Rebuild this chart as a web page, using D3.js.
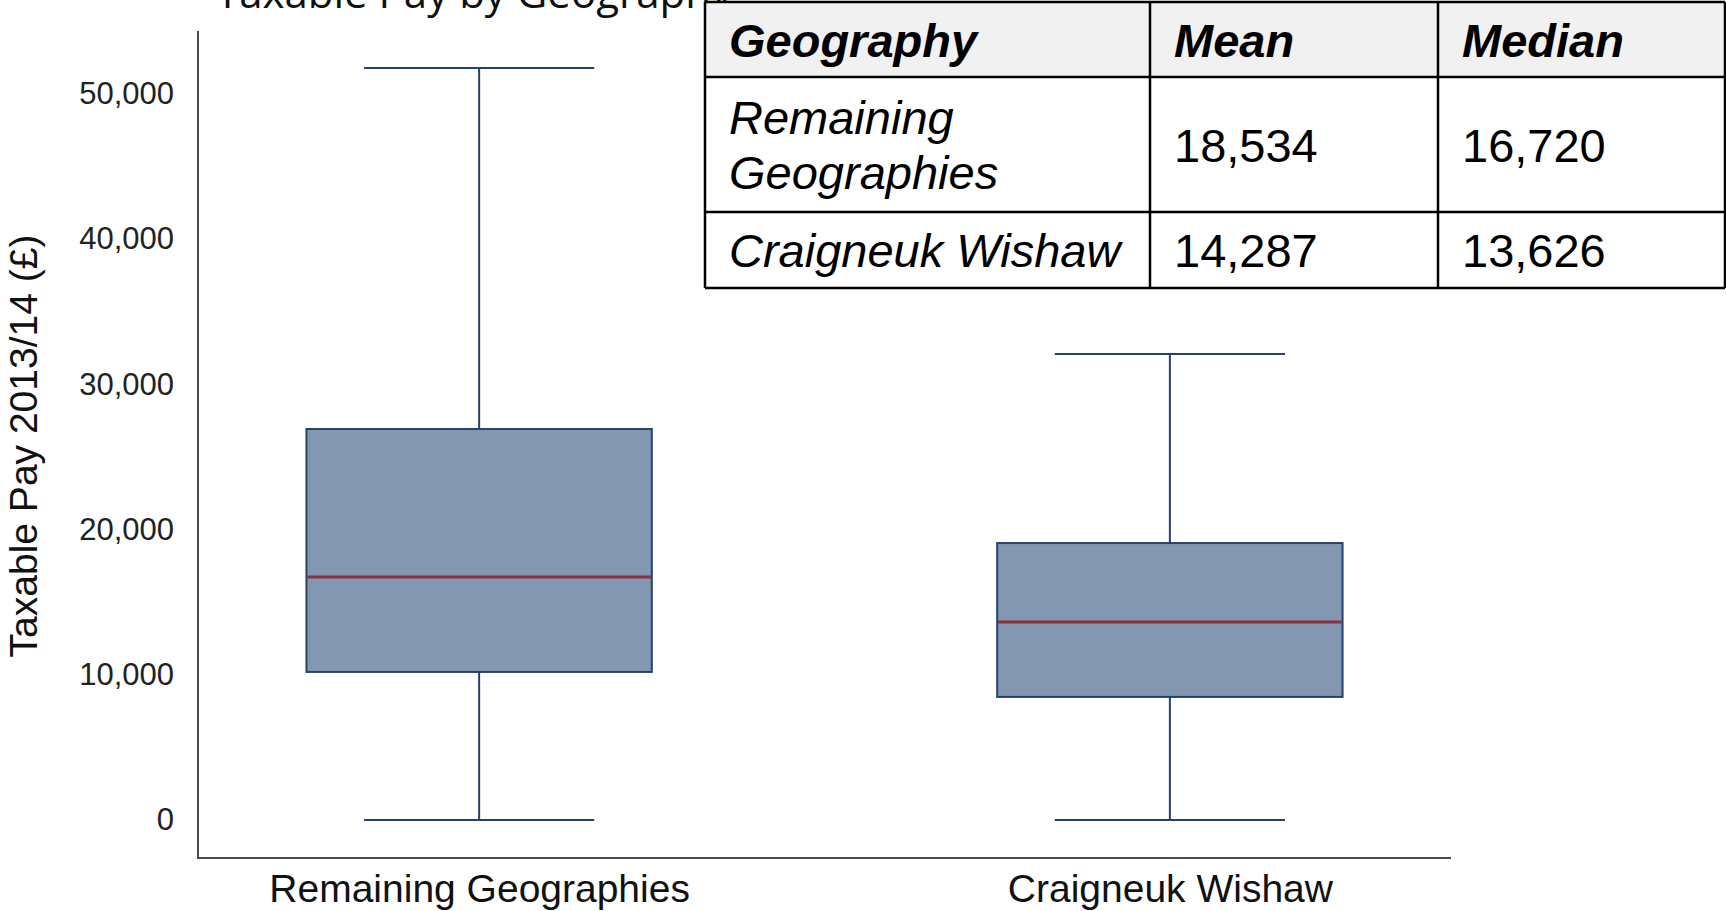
<!DOCTYPE html>
<meta charset="utf-8">
<script src="https://d3js.org/d3.v7.min.js"></script>
<style>
  body { margin: 0; background: #fff; }
  text { font-family: "Liberation Sans", Arial, sans-serif; }
</style>
<div id="my_dataviz"></div>
<script>

// box plot values
var categories = ["Remaining Geographies", "Craigneuk Wishaw"];
var whiskerLow = [0, 0];
var q1 = [10190, 8470];
var medians = [16720, 13626];
var q3 = [26910, 19060];
var whiskerHigh = [51750, 32070];
var means = [18534, 14287];

// tick labels
var yTicks = [0, 10000, 20000, 30000, 40000, 50000];

// summary table
var tableHeaders = ["Geography", "Mean", "Median"];
var tableGeoLabels = [["Remaining", "Geographies"], ["Craigneuk Wishaw"]];

var W = 1726, H = 911;

var svg = d3.select("#my_dataviz")
  .append("svg")
    .attr("width", W)
    .attr("height", H);

// plot area
var plotLeft = 198, plotRight = 1451, plotTop = 31, plotBottom = 858;

var x = d3.scalePoint()
  .domain(categories)
  .range([plotLeft, plotRight])
  .padding(0.407);

var y = d3.scaleLinear()
  .domain([-2615, 54300])
  .range([plotBottom, plotTop]);

var step = x.step();
var boxW = step * 0.5, capW = step / 3;

var data = categories.map(function(c, i) {
  return {cat: c, lo: whiskerLow[i], q1: q1[i], med: medians[i], q3: q3[i], hi: whiskerHigh[i]};
});

var stroke = "#24426e";

// title (mostly covered by the table)
svg.append("text")
  .attr("x", 216)
  .attr("y", 8)
  .style("font-family", "'Open Sans', sans-serif")
  .style("font-size", "42px")
  .style("fill", "#111")
  .text("Taxable Pay by Geography");

var g = svg.selectAll(".box").data(data).enter().append("g").attr("class", "box");

// whisker stems
g.append("line")
  .attr("x1", function(d) { return x(d.cat); })
  .attr("x2", function(d) { return x(d.cat); })
  .attr("y1", function(d) { return y(d.hi); })
  .attr("y2", function(d) { return y(d.lo); })
  .style("stroke", stroke).style("stroke-width", 2);

// caps
g.selectAll(".cap")
  .data(function(d) { return [{c: d.cat, v: d.hi}, {c: d.cat, v: d.lo}]; })
  .enter().append("line")
  .attr("x1", function(d) { return x(d.c) - capW / 2; })
  .attr("x2", function(d) { return x(d.c) + capW / 2; })
  .attr("y1", function(d) { return y(d.v); })
  .attr("y2", function(d) { return y(d.v); })
  .style("stroke", stroke).style("stroke-width", 2);

// boxes
g.append("rect")
  .attr("x", function(d) { return x(d.cat) - boxW / 2; })
  .attr("width", boxW)
  .attr("y", function(d) { return y(d.q3); })
  .attr("height", function(d) { return y(d.q1) - y(d.q3); })
  .style("fill", "#8398b0")
  .style("stroke", stroke).style("stroke-width", 2);

// medians
g.append("line")
  .attr("x1", function(d) { return x(d.cat) - boxW / 2 + 1; })
  .attr("x2", function(d) { return x(d.cat) + boxW / 2 - 1; })
  .attr("y1", function(d) { return y(d.med); })
  .attr("y2", function(d) { return y(d.med); })
  .style("stroke", "#8e2f3f").style("stroke-width", 3);

// axes
var yAxis = svg.append("g")
  .attr("transform", "translate(" + plotLeft + ",0)")
  .call(d3.axisLeft(y).tickValues(yTicks).tickSize(0).tickPadding(24).tickFormat(d3.format(",")));
yAxis.select(".domain").remove();
yAxis.selectAll("text")
  .style("font-family", "'Liberation Sans', Arial, sans-serif")
  .style("font-size", "31px")
  .style("fill", "#222");

var xAxis = svg.append("g")
  .attr("transform", "translate(0," + plotBottom + ")")
  .call(d3.axisBottom(x).tickSize(0).tickPadding(16));
xAxis.select(".domain").remove();
xAxis.selectAll("text")
  .style("font-family", "'Liberation Sans', Arial, sans-serif")
  .style("font-size", "39px")
  .style("fill", "#111");

svg.append("path")
  .attr("d", "M" + plotLeft + "," + plotTop + "V" + plotBottom + "H" + plotRight)
  .style("fill", "none")
  .style("stroke", "#4a4a4a")
  .style("stroke-width", 2);

// y axis title
svg.append("text")
  .attr("transform", "translate(37,446) rotate(-90)")
  .style("text-anchor", "middle")
  .style("font-size", "39px")
  .style("fill", "#111")
  .text("Taxable Pay 2013/14 (\u00a3)");

// summary table, drawn over the top right
var colX = [705, 1150, 1438, 1725];
var rowY = [2, 77, 212, 288];
var fmt = d3.format(",");

var table = svg.append("g");

table.append("rect")
  .attr("x", colX[0]).attr("y", rowY[0])
  .attr("width", colX[3] - colX[0]).attr("height", rowY[1] - rowY[0])
  .style("fill", "#f1f1f1");
table.append("rect")
  .attr("x", colX[0]).attr("y", rowY[1])
  .attr("width", colX[3] - colX[0]).attr("height", rowY[3] - rowY[1])
  .style("fill", "#fff");

// grid lines
table.selectAll(".hl").data(rowY).enter().append("line")
  .attr("x1", colX[0]).attr("x2", colX[3])
  .attr("y1", function(d) { return d; }).attr("y2", function(d) { return d; })
  .style("stroke", "#000").style("stroke-width", 2.5);
table.selectAll(".vl").data(colX).enter().append("line")
  .attr("y1", rowY[0]).attr("y2", rowY[3])
  .attr("x1", function(d) { return d; }).attr("x2", function(d) { return d; })
  .style("stroke", "#000").style("stroke-width", 2.5);

var pad = 24;

table.selectAll(".hdr").data(tableHeaders).enter().append("text")
  .attr("x", function(d, i) { return colX[i] + pad; })
  .attr("y", (rowY[0] + rowY[1]) / 2 + 17)
  .style("font-size", "47px")
  .style("font-weight", "bold")
  .style("font-style", "italic")
  .style("fill", "#000")
  .text(function(d) { return d; });

categories.forEach(function(c, i) {
  var mid = (rowY[i + 1] + rowY[i + 2]) / 2;
  var lines = tableGeoLabels[i];
  var lh = 55;
  lines.forEach(function(l, j) {
    table.append("text")
      .attr("x", colX[0] + pad)
      .attr("y", mid + 17 + (j - (lines.length - 1) / 2) * lh)
      .style("font-size", "47px")
      .style("font-style", "italic")
      .style("fill", "#000")
      .text(l);
  });
  [means[i], medians[i]].forEach(function(v, k) {
    table.append("text")
      .attr("x", colX[k + 1] + pad)
      .attr("y", mid + 17)
      .style("font-size", "47px")
      .style("fill", "#000")
      .text(fmt(v));
  });
});

</script>
